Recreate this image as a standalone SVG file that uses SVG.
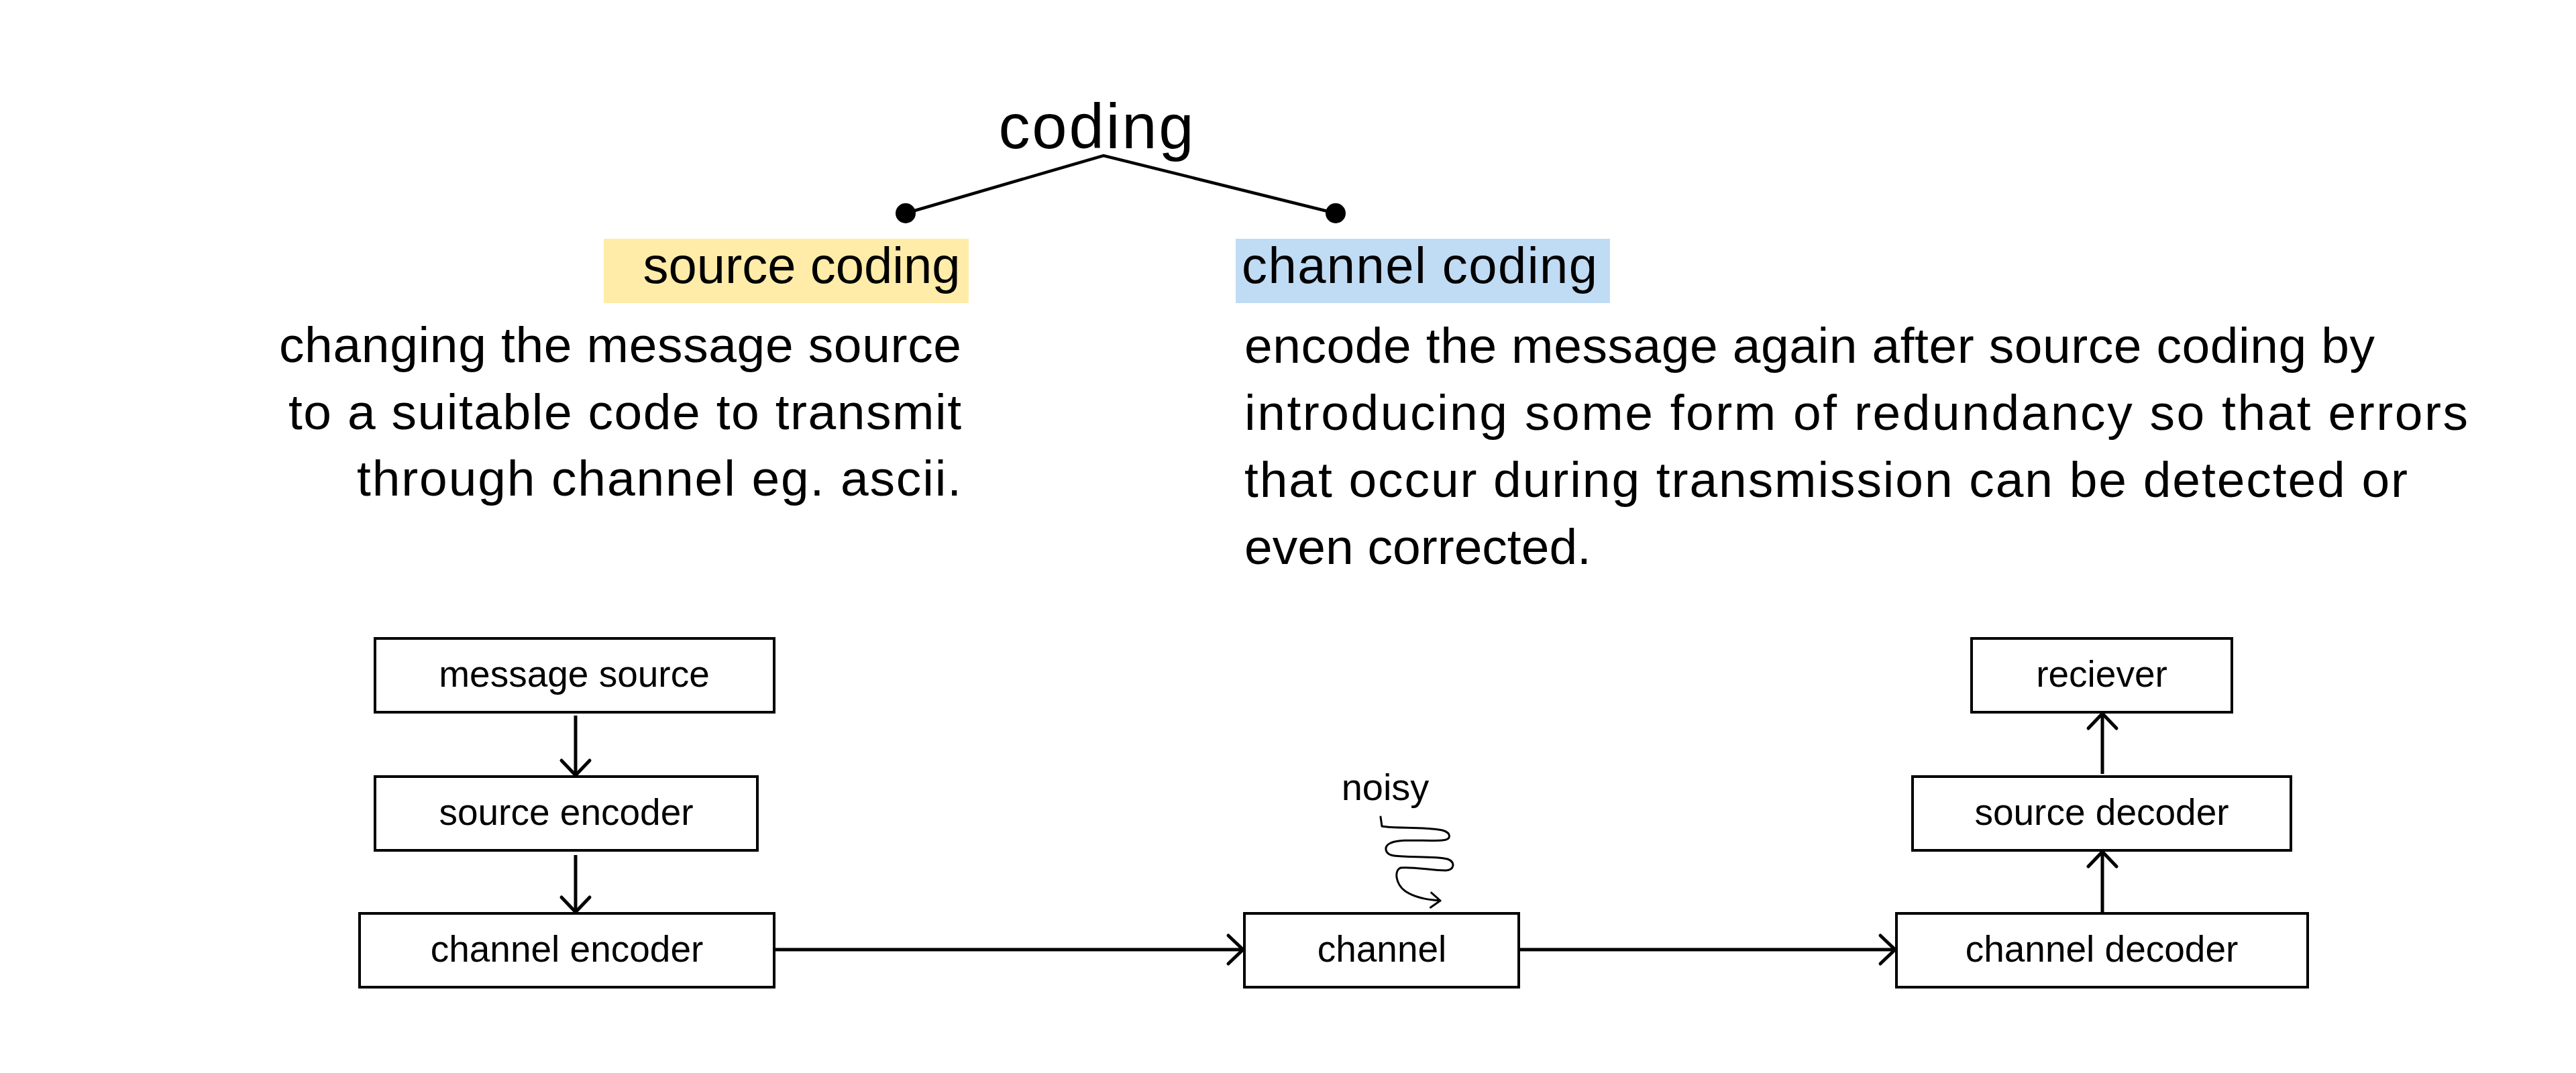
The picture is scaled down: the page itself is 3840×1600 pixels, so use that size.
<svg xmlns="http://www.w3.org/2000/svg" width="3840" height="1600" viewBox="0 0 3840 1600">
<defs>
<style>
text{font-family:"Liberation Sans","Noto Sans",sans-serif;fill:#000}
.title{font-size:94px;text-anchor:middle}
.head{font-size:76px;text-anchor:middle}
.desc{font-size:75px}
.lbl{font-size:55px;text-anchor:middle}
.box{fill:#fff;stroke:#000;stroke-width:4}
.conn{fill:none;stroke:#000;stroke-width:5}
.tree{fill:none;stroke:#000;stroke-width:4.5}
</style>
<marker id="chev" markerUnits="userSpaceOnUse" viewBox="-30 -30 40 60" refX="0" refY="0" markerWidth="40" markerHeight="60" orient="auto" overflow="visible">
<path d="M-22,-21 L0,0 L-22,21" fill="none" stroke="#000" stroke-width="5" stroke-linecap="round" stroke-linejoin="round"/>
</marker>
<marker id="chevs" markerUnits="userSpaceOnUse" viewBox="-20 -20 30 40" refX="0" refY="0" markerWidth="30" markerHeight="40" orient="auto" overflow="visible">
<path d="M-14,-11 L0,0 L-14,11" fill="none" stroke="#000" stroke-width="3" stroke-linecap="round" stroke-linejoin="round"/>
</marker>
</defs>
<rect width="3840" height="1600" fill="#fff"/>

<g id="title">
<text class="title" x="1634" y="221" textLength="291" lengthAdjust="spacing">coding</text>
<path class="tree" d="M1350,318 L1645,232 L1991,318"/>
<circle cx="1350" cy="318" r="15"/>
<circle cx="1991" cy="318" r="15"/>
</g>

<g id="source-coding">
<rect x="900" y="356" width="544" height="96" fill="#ffeca9"/>
<text class="head" x="1195" y="422">source coding</text>
<text class="desc" text-anchor="end" x="1433" y="540" textLength="1017" lengthAdjust="spacing">changing the message source</text>
<text class="desc" text-anchor="end" x="1433" y="640" textLength="1003" lengthAdjust="spacing">to a suitable code to transmit</text>
<text class="desc" text-anchor="end" x="1433" y="739" textLength="901" lengthAdjust="spacing">through channel eg. ascii.</text>
</g>

<g id="channel-coding">
<rect x="1842" y="356" width="558" height="96" fill="#c0dbf4"/>
<text class="head" x="2116" y="422" textLength="530" lengthAdjust="spacing">channel coding</text>
<text class="desc" x="1855" y="541" textLength="1685" lengthAdjust="spacing">encode the message again after source coding by</text>
<text class="desc" x="1855" y="641" textLength="1824" lengthAdjust="spacing">introducing some form of redundancy so that errors</text>
<text class="desc" x="1855" y="741" textLength="1734" lengthAdjust="spacing">that occur during transmission can be detected or</text>
<text class="desc" x="1855" y="841">even corrected.</text>
</g>

<g id="message-source">
<rect class="box" x="559" y="952" width="595" height="110"/>
<text class="lbl" x="856" y="1024">message source</text>
</g>
<g id="source-encoder">
<rect class="box" x="559" y="1158" width="570" height="110"/>
<text class="lbl" x="844" y="1230">source encoder</text>
</g>
<g id="channel-encoder">
<rect class="box" x="536" y="1362" width="618" height="110"/>
<text class="lbl" x="845" y="1434">channel encoder</text>
</g>
<g id="channel">
<rect class="box" x="1855" y="1362" width="409" height="110"/>
<text class="lbl" x="2060" y="1434">channel</text>
</g>
<g id="channel-decoder">
<rect class="box" x="2827" y="1362" width="613" height="110"/>
<text class="lbl" x="3133" y="1434">channel decoder</text>
</g>
<g id="source-decoder">
<rect class="box" x="2851" y="1158" width="564" height="110"/>
<text class="lbl" x="3133" y="1230">source decoder</text>
</g>
<g id="reciever">
<rect class="box" x="2939" y="952" width="388" height="110"/>
<text class="lbl" x="3133" y="1024">reciever</text>
</g>

<g id="noise">
<text x="2065" y="1193" font-size="56" text-anchor="middle">noisy</text>
<path d="M2058,1218 L2060,1232 C2080,1236 2120,1232 2150,1238 C2164,1242 2164,1252 2150,1253 C2125,1255 2090,1250 2073,1257 C2062,1262 2064,1274 2078,1276 C2100,1279 2140,1276 2158,1281 C2170,1286 2168,1297 2155,1298 C2135,1298 2105,1292 2088,1294 C2078,1298 2080,1318 2095,1329 C2110,1339 2130,1342 2147,1343" fill="none" stroke="#000" stroke-width="3" stroke-linecap="round" marker-end="url(#chevs)"/>
</g>

<g id="connectors">
<path class="conn" d="M858,1067 L858,1156" marker-end="url(#chev)"/>
<path class="conn" d="M858,1275 L858,1360" marker-end="url(#chev)"/>
<path class="conn" d="M1154,1416 L1853,1416" marker-end="url(#chev)"/>
<path class="conn" d="M2264,1416 L2825,1416" marker-end="url(#chev)"/>
<path class="conn" d="M3134,1362 L3134,1270" marker-end="url(#chev)"/>
<path class="conn" d="M3134,1154 L3134,1064" marker-end="url(#chev)"/>
</g>
</svg>
